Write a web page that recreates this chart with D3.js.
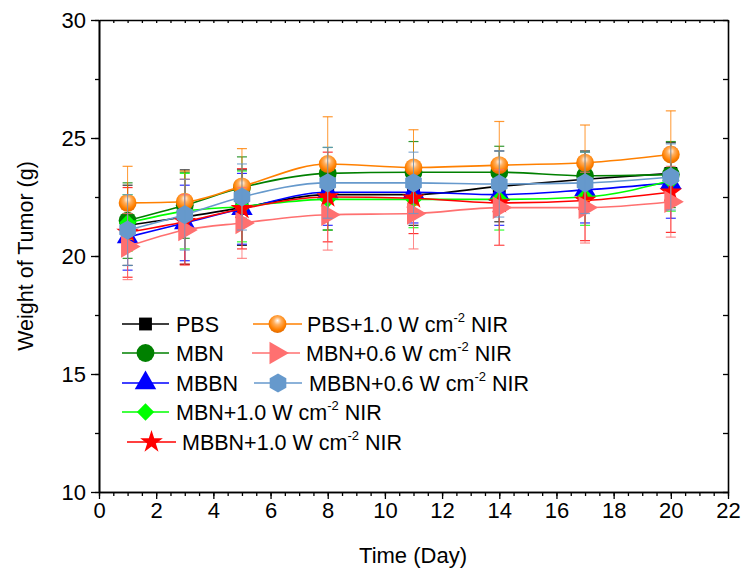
<!DOCTYPE html>
<html>
<head>
<meta charset="utf-8">
<script src="https://cdn.jsdelivr.net/npm/d3@7"></script>
<style>
  body { margin: 0; background: #fff; }
  svg { font-family: "Liberation Sans", Arial, sans-serif; }
</style>
</head>
<body>
<svg id="chart" width="742" height="572"></svg>
<script>
// Days and tumor weights (g)
const days = [1, 3, 5, 8, 11, 14, 17, 20];

const pbs    = [21.3, 21.65, 22.05, 22.6, 22.6, 22.95, 23.25, 23.5];
const mbn    = [21.5, 22.15, 22.9, 23.5, 23.55, 23.55, 23.4, 23.45];
const mbbn   = [20.8, 21.4, 22.0, 22.7, 22.7, 22.6, 22.8, 23.1];
const mbn10  = [21.4, 21.9, 22.1, 22.4, 22.4, 22.4, 22.5, 23.2];
const mbbn10 = [21.0, 21.45, 22.0, 22.5, 22.45, 22.25, 22.35, 22.7];
const pbs10  = [22.25, 22.3, 22.95, 23.9, 23.75, 23.85, 23.95, 24.3];
const mbn06  = [20.4, 21.1, 21.4, 21.75, 21.8, 22.05, 22.05, 22.3];
const mbbn06 = [21.1, 21.75, 22.5, 23.1, 23.1, 23.05, 23.1, 23.35];

const pbsErr    = [1.7, 2.0, 1.6, 1.5, 1.3, 1.5, 1.2, 1.3];
const mbnErr    = [1.6, 1.4, 1.3, 1.1, 1.3, 1.1, 1.0, 1.4];
const mbbnErr   = [1.4, 1.6, 1.5, 1.4, 1.3, 1.3, 1.4, 1.5];
const mbn10Err  = [1.2, 1.6, 1.5, 1.3, 1.2, 1.3, 1.2, 1.3];
const mbbn10Err = [1.9, 1.8, 1.7, 1.9, 1.5, 1.8, 1.7, 1.7];
const pbs10Err  = [1.55, 1.3, 1.6, 2.0, 1.6, 1.85, 1.6, 1.85];
const mbn06Err  = [1.4, 1.5, 1.5, 1.5, 1.5, 1.6, 1.5, 1.5];
const mbbn06Err = [1.5, 1.5, 1.4, 1.5, 1.3, 1.4, 1.3, 1.4];

const xTicks = [0, 2, 4, 6, 8, 10, 12, 14, 16, 18, 20, 22];
const yTicks = [10, 15, 20, 25, 30];

// hexagon symbol, pointy top
const symbolHex = {
  draw(context, size) {
    const r = Math.sqrt(size / (1.5 * Math.sqrt(3)));
    for (let i = 0; i < 6; i++) {
      const a = Math.PI / 2 + i * Math.PI / 3;
      const px = r * Math.cos(a), py = r * Math.sin(a);
      if (i === 0) context.moveTo(px, py); else context.lineTo(px, py);
    }
    context.closePath();
  }
};

const series = [
  { name: 'PBS', values: pbs, err: pbsErr, color: '#000000', type: d3.symbolSquare, size: 165, rot: 0 },
  { name: 'MBN', values: mbn, err: mbnErr, color: '#008000', type: d3.symbolCircle, size: 250, rot: 0 },
  { name: 'MBBN', values: mbbn, err: mbbnErr, color: '#0000ff', type: d3.symbolTriangle, size: 200, rot: 0 },
  { name: 'MBN+1.0', values: mbn10, err: mbn10Err, color: '#00ff00', type: d3.symbolSquare, size: 150, rot: 45 },
  { name: 'MBBN+1.0', values: mbbn10, err: mbbn10Err, color: '#ff0000', type: d3.symbolStar, size: 160, rot: 0 },
  { name: 'PBS+1.0', values: pbs10, err: pbs10Err, color: '#ff8000', type: d3.symbolCircle, size: 250, rot: 0, grad: true },
  { name: 'MBN+0.6', values: mbn06, err: mbn06Err, color: '#ff7070', type: d3.symbolTriangle, size: 220, rot: 90 },
  { name: 'MBBN+0.6', values: mbbn06, err: mbbn06Err, color: '#6699cc', type: symbolHex, size: 240, rot: 0 }
];

const svg = d3.select('#chart');
const x = d3.scaleLinear().domain([0, 22]).range([99, 728]);
const y = d3.scaleLinear().domain([10, 30]).range([492, 20]);

// gradient for the orange ball
const defs = svg.append('defs');
const rg = defs.append('radialGradient').attr('id', 'ball')
  .attr('cx', '50%').attr('cy', '40%').attr('r', '60%').attr('fx', '50%').attr('fy', '30%');
rg.append('stop').attr('offset', '0%').attr('stop-color', '#ffffff');
rg.append('stop').attr('offset', '35%').attr('stop-color', '#ffb060');
rg.append('stop').attr('offset', '75%').attr('stop-color', '#ff8000');
rg.append('stop').attr('offset', '100%').attr('stop-color', '#e06a00');

const symbolPath = s => d3.symbol().type(s.type).size(s.size)();

// Series: line, markers, error bars
const line = d3.line().curve(d3.curveMonotoneX).x(d => x(d[0])).y(d => y(d[1]));
const plot = svg.append('g');

series.forEach(s => {
  const pts = days.map((d, i) => [d, s.values[i], s.err[i]]);
  const g = plot.append('g');
  g.append('path')
    .attr('d', line(pts))
    .attr('fill', 'none')
    .attr('stroke', s.color)
    .attr('stroke-width', 1.6);

  g.selectAll('.m').data(pts).enter().append('path')
    .attr('transform', d => `translate(${x(d[0])},${y(d[1])}) rotate(${s.rot})`)
    .attr('d', symbolPath(s))
    .attr('fill', s.grad ? 'url(#ball)' : s.color);

  const eb = g.selectAll('.e').data(pts).enter().append('g');
  eb.append('line')
    .attr('x1', d => x(d[0])).attr('x2', d => x(d[0]))
    .attr('y1', d => y(d[1] + d[2])).attr('y2', d => y(d[1] - d[2]))
    .attr('stroke', s.color).attr('stroke-width', 1).attr('opacity', 0.8);
  [1, -1].forEach(sign => {
    eb.append('line')
      .attr('x1', d => x(d[0]) - 5).attr('x2', d => x(d[0]) + 5)
      .attr('y1', d => y(d[1] + sign * d[2])).attr('y2', d => y(d[1] + sign * d[2]))
      .attr('stroke', s.color).attr('stroke-width', 1.2).attr('opacity', 0.8);
  });
});

// Axes
const axisStyle = g => {
  g.selectAll('.domain').attr('stroke', '#000').attr('stroke-width', 1.6);
  g.selectAll('.tick line').attr('stroke', '#000').attr('stroke-width', 1.3);
  g.selectAll('.tick text').attr('font-size', 22).attr('fill', '#000')
    .attr('font-family', '"Liberation Sans", Arial, sans-serif');
};
const xMinor = d3.range(0, 22.01, 0.5);
const yMinor = d3.range(10, 30.01, 2.5);

svg.append('g').attr('transform', 'translate(0,492)')
  .call(d3.axisBottom(x).tickValues(xMinor).tickSize(4).tickFormat('').tickSizeOuter(0)).call(axisStyle);
svg.append('g').attr('transform', 'translate(0,492)')
  .call(d3.axisBottom(x).tickValues(xTicks).tickSize(7).tickPadding(3).tickFormat(d3.format('d')).tickSizeOuter(0))
  .call(axisStyle);
svg.append('g').attr('transform', 'translate(0,20)')
  .call(d3.axisBottom(x).tickValues(xMinor).tickSize(3).tickFormat('').tickSizeOuter(0)).call(axisStyle);

svg.append('g').attr('transform', 'translate(99,0)')
  .call(d3.axisLeft(y).tickValues(yMinor).tickSize(4).tickFormat('').tickSizeOuter(0)).call(axisStyle);
svg.append('g').attr('transform', 'translate(99,0)')
  .call(d3.axisLeft(y).tickValues(yTicks).tickSize(8).tickPadding(5).tickFormat(d3.format('d')).tickSizeOuter(0))
  .call(axisStyle);
svg.append('g').attr('transform', 'translate(728,0)')
  .call(d3.axisLeft(y).tickValues(yMinor).tickSize(5).tickFormat('').tickSizeOuter(0)).call(axisStyle);

// Axis titles
svg.append('text')
  .attr('x', 413).attr('y', 563)
  .attr('text-anchor', 'middle').attr('font-size', 22)
  .text('Time (Day)');
svg.append('text')
  .attr('transform', 'translate(33,256) rotate(-90)')
  .attr('text-anchor', 'middle').attr('font-size', 21.5)
  .text('Weight of Tumor (g)');

// Legend
const legendPos = [
  { x1: 122, x2: 169, ty: 324, tx: 176 },
  { x1: 122, x2: 169, ty: 353, tx: 176 },
  { x1: 122, x2: 169, ty: 383, tx: 176 },
  { x1: 122, x2: 169, ty: 412, tx: 176 },
  { x1: 127, x2: 176, ty: 442, tx: 182 },
  { x1: 253, x2: 302, ty: 324, tx: 307 },
  { x1: 252, x2: 300, ty: 353, tx: 306 },
  { x1: 254, x2: 302, ty: 383, tx: 309 }
];
const legendLabels = ['PBS', 'MBN', 'MBBN', 'MBN+1.0 W cm|-2| NIR', 'MBBN+1.0 W cm|-2| NIR',
  'PBS+1.0 W cm|-2| NIR', 'MBN+0.6 W cm|-2| NIR', 'MBBN+0.6 W cm|-2| NIR'];

const legend = svg.append('g');
series.forEach((s, i) => {
  const p = legendPos[i];
  const cx = (p.x1 + p.x2) / 2;
  legend.append('line')
    .attr('x1', p.x1).attr('x2', p.x2).attr('y1', p.ty).attr('y2', p.ty)
    .attr('stroke', s.color).attr('stroke-width', 1.6);
  legend.append('path')
    .attr('transform', `translate(${cx},${p.ty}) rotate(${s.rot})`)
    .attr('d', symbolPath(s))
    .attr('fill', s.grad ? 'url(#ball)' : s.color);
  const parts = legendLabels[i].split('|');
  const t = legend.append('text').attr('x', p.tx).attr('y', p.ty + 8).attr('font-size', 21.5);
  t.append('tspan').text(parts[0]);
  if (parts.length > 1) {
    t.append('tspan').attr('dy', -10).attr('font-size', 13).text(parts[1]);
    t.append('tspan').attr('dy', 10).text(parts[2]);
  }
});
</script>
</body>
</html>
